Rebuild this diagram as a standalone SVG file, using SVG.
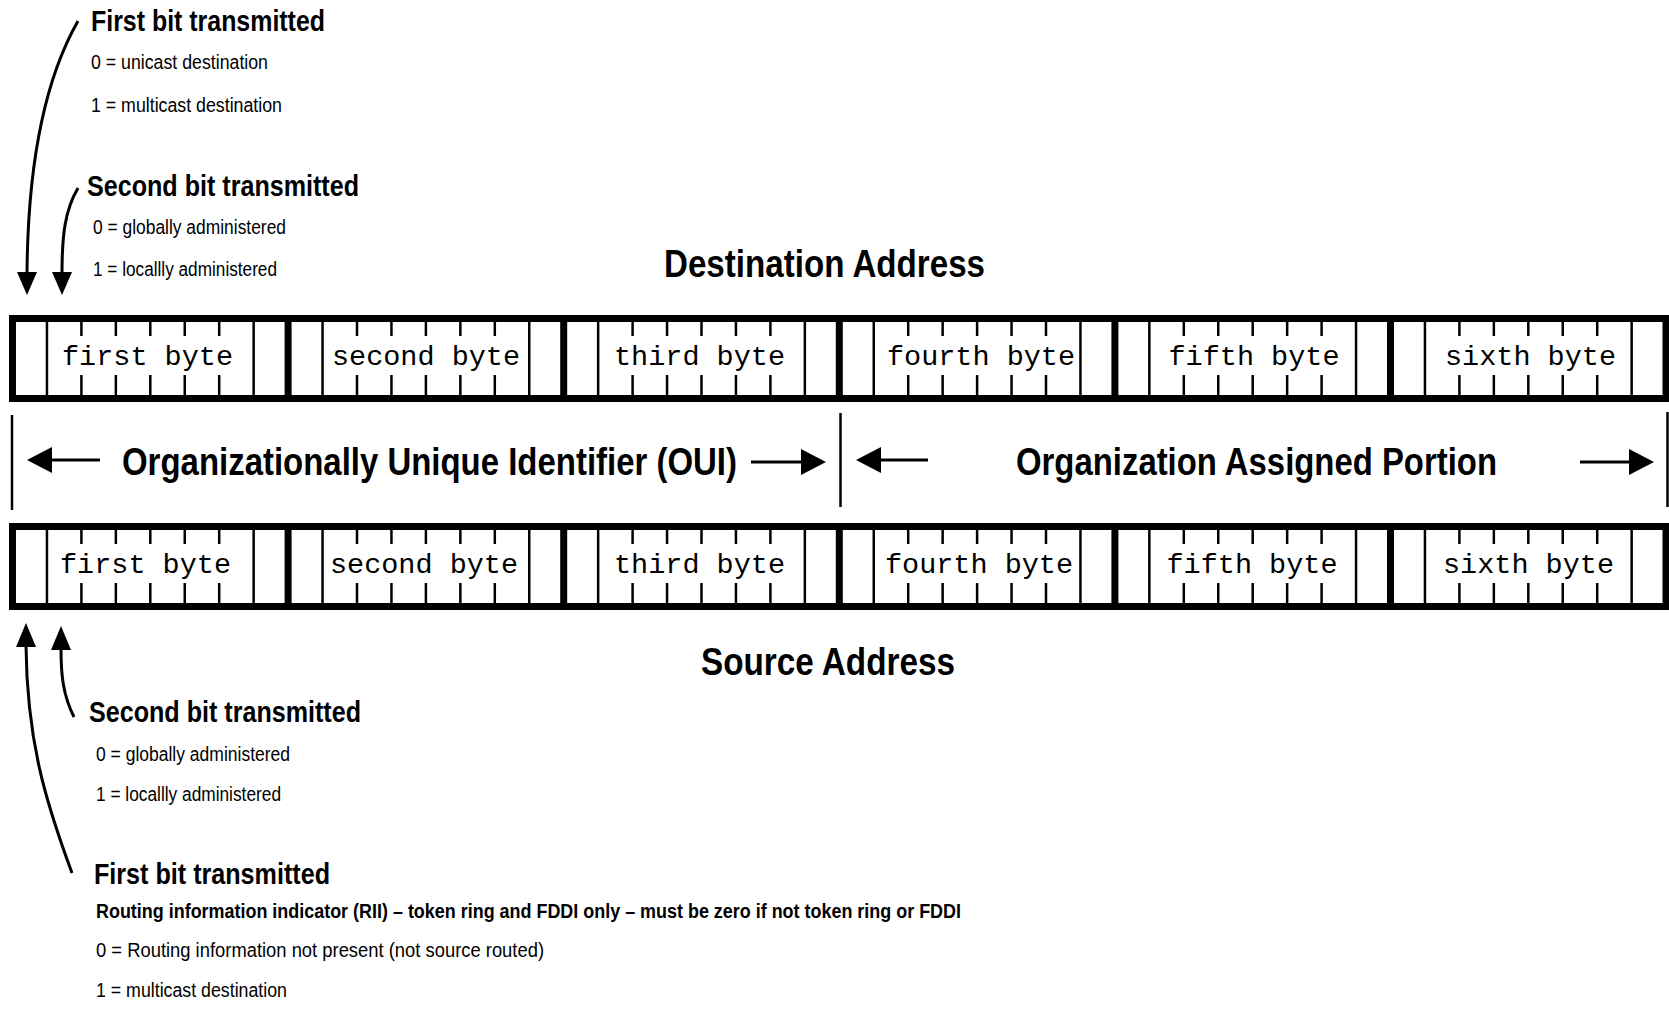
<svg xmlns="http://www.w3.org/2000/svg" xmlns:xlink="http://www.w3.org/1999/xlink" width="1669" height="1009" viewBox="0 0 1669 1009">
<style>
  .row { fill: none; stroke: #000; stroke-width: 7; }
  .sep { stroke: #000; stroke-width: 7; }
  .bit { stroke: #000; stroke-width: 2.5; }
  .mark { stroke: #000; stroke-width: 2.5; }
  .byte { font-family: "Liberation Mono", "Courier New", monospace; font-size: 28.5px; fill: #000; text-anchor: middle; }
  .big { font-family: "Liberation Sans", Arial, sans-serif; font-weight: bold; font-size: 39px; fill: #000; }
  .head { font-family: "Liberation Sans", Arial, sans-serif; font-weight: bold; font-size: 30px; fill: #000; }
  .small { font-family: "Liberation Sans", Arial, sans-serif; font-size: 20px; fill: #000; }
  .smallb { font-family: "Liberation Sans", Arial, sans-serif; font-weight: bold; font-size: 20px; fill: #000; }
  .arr { fill: none; stroke: #000; stroke-width: 3; }
  .head-fill { fill: #000; stroke: none; }
</style>
<defs>
  <g id="bits">
    <line class="bit" x1="34.45" y1="0" x2="34.45" y2="73"/>
    <line class="bit" x1="241.15" y1="0" x2="241.15" y2="73"/>
    <line class="bit" x1="68.9" y1="0" x2="68.9" y2="14"/>
    <line class="bit" x1="103.35" y1="0" x2="103.35" y2="14"/>
    <line class="bit" x1="137.8" y1="0" x2="137.8" y2="14"/>
    <line class="bit" x1="172.25" y1="0" x2="172.25" y2="14"/>
    <line class="bit" x1="206.7" y1="0" x2="206.7" y2="14"/>
    <line class="bit" x1="68.9" y1="53" x2="68.9" y2="73"/>
    <line class="bit" x1="103.35" y1="53" x2="103.35" y2="73"/>
    <line class="bit" x1="137.8" y1="53" x2="137.8" y2="73"/>
    <line class="bit" x1="172.25" y1="53" x2="172.25" y2="73"/>
    <line class="bit" x1="206.7" y1="53" x2="206.7" y2="73"/>
  </g>
</defs>
<rect width="1669" height="1009" fill="#fff"/>

<!-- Destination address row -->
<g id="destination-row">
  <rect class="row" x="12.5" y="318.5" width="1653.5" height="80"/>
  <line class="sep" x1="288.1" y1="315" x2="288.1" y2="402"/>
  <line class="sep" x1="563.7" y1="315" x2="563.7" y2="402"/>
  <line class="sep" x1="839.3" y1="315" x2="839.3" y2="402"/>
  <line class="sep" x1="1114.9" y1="315" x2="1114.9" y2="402"/>
  <line class="sep" x1="1390.5" y1="315" x2="1390.5" y2="402"/>
  <use xlink:href="#bits" href="#bits" transform="translate(12.5,322)"/>
  <use xlink:href="#bits" href="#bits" transform="translate(288.1,322)"/>
  <use xlink:href="#bits" href="#bits" transform="translate(563.7,322)"/>
  <use xlink:href="#bits" href="#bits" transform="translate(839.3,322)"/>
  <use xlink:href="#bits" href="#bits" transform="translate(1114.9,322)"/>
  <use xlink:href="#bits" href="#bits" transform="translate(1390.5,322)"/>
</g>
<g id="dst-byte1"><text class="byte" x="147.5" y="365">first byte</text></g>
<g id="dst-byte2"><text class="byte" x="426" y="365">second byte</text></g>
<g id="dst-byte3"><text class="byte" x="699.5" y="365">third byte</text></g>
<g id="dst-byte4"><text class="byte" x="981" y="365">fourth byte</text></g>
<g id="dst-byte5"><text class="byte" x="1254" y="365">fifth byte</text></g>
<g id="dst-byte6"><text class="byte" x="1530.5" y="365">sixth byte</text></g>

<!-- Source address row -->
<g id="source-row">
  <rect class="row" x="12.5" y="526.5" width="1653.5" height="80"/>
  <line class="sep" x1="288.1" y1="523" x2="288.1" y2="610"/>
  <line class="sep" x1="563.7" y1="523" x2="563.7" y2="610"/>
  <line class="sep" x1="839.3" y1="523" x2="839.3" y2="610"/>
  <line class="sep" x1="1114.9" y1="523" x2="1114.9" y2="610"/>
  <line class="sep" x1="1390.5" y1="523" x2="1390.5" y2="610"/>
  <use xlink:href="#bits" href="#bits" transform="translate(12.5,530)"/>
  <use xlink:href="#bits" href="#bits" transform="translate(288.1,530)"/>
  <use xlink:href="#bits" href="#bits" transform="translate(563.7,530)"/>
  <use xlink:href="#bits" href="#bits" transform="translate(839.3,530)"/>
  <use xlink:href="#bits" href="#bits" transform="translate(1114.9,530)"/>
  <use xlink:href="#bits" href="#bits" transform="translate(1390.5,530)"/>
</g>
<g id="src-byte1"><text class="byte" x="145.5" y="573">first byte</text></g>
<g id="src-byte2"><text class="byte" x="424" y="573">second byte</text></g>
<g id="src-byte3"><text class="byte" x="699.5" y="573">third byte</text></g>
<g id="src-byte4"><text class="byte" x="979" y="573">fourth byte</text></g>
<g id="src-byte5"><text class="byte" x="1252" y="573">fifth byte</text></g>
<g id="src-byte6"><text class="byte" x="1528.5" y="573">sixth byte</text></g>

<!-- Middle OUI / OAP band -->
<g id="band-marks">
  <line class="mark" x1="12" y1="415" x2="12" y2="510"/>
  <line class="mark" x1="840.5" y1="413" x2="840.5" y2="507"/>
  <line class="mark" x1="1667.5" y1="412" x2="1667.5" y2="507"/>
</g>
<g id="oui-label"><text class="big" x="122" y="475" textLength="615" lengthAdjust="spacingAndGlyphs">Organizationally Unique Identifier (OUI)</text></g>
<g id="oap-label"><text class="big" x="1016" y="475" textLength="481" lengthAdjust="spacingAndGlyphs">Organization Assigned Portion</text></g>

<g id="destination-title"><text class="big" x="664" y="277" textLength="321" lengthAdjust="spacingAndGlyphs">Destination Address</text></g>
<g id="source-title"><text class="big" x="701" y="675" textLength="254" lengthAdjust="spacingAndGlyphs">Source Address</text></g>

<!-- Top notes -->
<g id="dst-first-bit">
  <text class="head" x="91" y="31" textLength="234" lengthAdjust="spacingAndGlyphs">First bit transmitted</text>
  <text class="small" x="91" y="69" textLength="177" lengthAdjust="spacingAndGlyphs">0 = unicast destination</text>
  <text class="small" x="91" y="112" textLength="191" lengthAdjust="spacingAndGlyphs">1 = multicast destination</text>
</g>
<g id="dst-second-bit">
  <text class="head" x="87" y="196" textLength="272" lengthAdjust="spacingAndGlyphs">Second bit transmitted</text>
  <text class="small" x="93" y="234" textLength="193" lengthAdjust="spacingAndGlyphs">0 = globally administered</text>
  <text class="small" x="93" y="276" textLength="184" lengthAdjust="spacingAndGlyphs">1 = locallly administered</text>
</g>

<!-- Bottom notes -->
<g id="src-second-bit">
  <text class="head" x="89" y="722" textLength="272" lengthAdjust="spacingAndGlyphs">Second bit transmitted</text>
  <text class="small" x="96" y="761" textLength="194" lengthAdjust="spacingAndGlyphs">0 = globally administered</text>
  <text class="small" x="96" y="801" textLength="185" lengthAdjust="spacingAndGlyphs">1 = locallly administered</text>
</g>
<g id="src-first-bit">
  <text class="head" x="94" y="884" textLength="236" lengthAdjust="spacingAndGlyphs">First bit transmitted</text>
  <text class="smallb" x="96" y="918" textLength="865" lengthAdjust="spacingAndGlyphs">Routing information indicator (RII) – token ring and FDDI only – must be zero if not token ring or FDDI</text>
  <text class="small" x="96" y="957" textLength="448" lengthAdjust="spacingAndGlyphs">0 = Routing information not present (not source routed)</text>
  <text class="small" x="96" y="997" textLength="191" lengthAdjust="spacingAndGlyphs">1 = multicast destination</text>
</g>

<!-- Connectors -->
<g id="connectors">
  <path class="arr" d="M78,21 C50,70 28,150 27,273"/>
  <polygon class="head-fill" points="17,272 37,272 27,295"/>
  <path class="arr" d="M78,188 C65,210 62,235 62,273"/>
  <polygon class="head-fill" points="52,272 72,272 62,295"/>

  <path class="arr" d="M72,873 C45,800 27,740 26,646"/>
  <polygon class="head-fill" points="16,647 36,647 26,623"/>
  <path class="arr" d="M74,717 C63,695 61,675 61,649"/>
  <polygon class="head-fill" points="51,650 71,650 61,626"/>

  <line class="arr" x1="100" y1="460" x2="50" y2="460"/>
  <polygon class="head-fill" points="27,460 52,447 52,473"/>
  <line class="arr" x1="751" y1="462" x2="804" y2="462"/>
  <polygon class="head-fill" points="826,462 801,449 801,475"/>
  <line class="arr" x1="928" y1="460" x2="878" y2="460"/>
  <polygon class="head-fill" points="856,460 881,447 881,473"/>
  <line class="arr" x1="1580" y1="462" x2="1632" y2="462"/>
  <polygon class="head-fill" points="1654,462 1629,449 1629,475"/>
</g>
</svg>
